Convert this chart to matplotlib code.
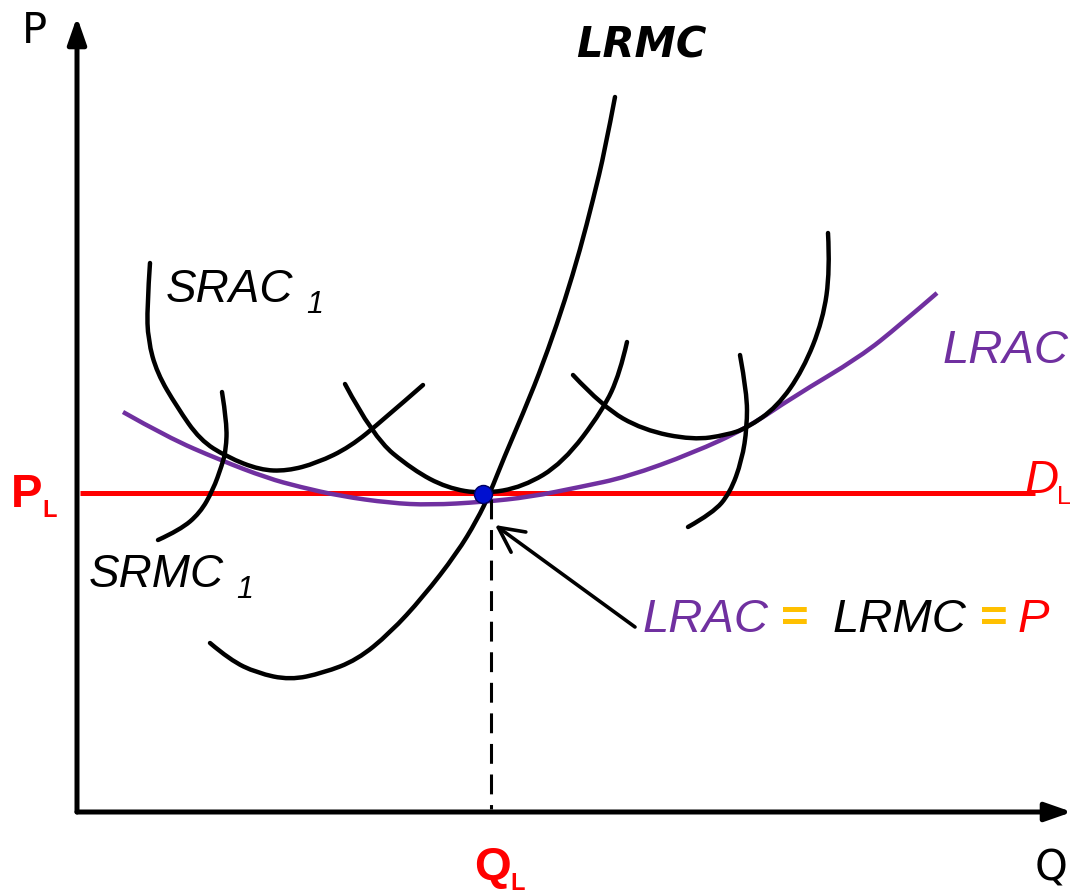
import matplotlib
matplotlib.use('Agg')
import matplotlib.pyplot as plt
from matplotlib.patches import FancyArrowPatch, PathPatch
from matplotlib.path import Path

# Curve points (Q to the right, P upwards, origin at the axes corner)
lrac_q = [46, 90, 143, 190, 223, 263, 313, 353, 406, 453, 503, 550, 616, 670, 716, 783, 823, 860]
lrac_p = [400, 375, 352, 334, 325, 316, 309, 307, 310, 315, 325, 335, 359, 384, 415, 455, 487, 519]

lrmc_q = [133, 153, 180, 213, 246, 280, 313, 346, 380, 400, 413, 426, 453, 471, 488, 503, 516, 528, 538]
lrmc_p = [169, 152, 139, 132, 139, 152, 179, 215, 259, 292, 319, 352, 415, 462, 512, 562, 612, 662, 715]

srac1_q = [73, 70, 71, 80, 100, 123, 150, 183, 210, 240, 273, 306, 346]
srac1_p = [549, 505, 472, 439, 405, 372, 355, 342, 341, 349, 365, 392, 427]

srmc1_q = [145, 150, 149, 145, 136, 123, 103, 81]
srmc1_p = [420, 389, 362, 347, 322, 299, 282, 272]

srac2_q = [268, 296, 336, 370, 406, 446, 486, 526, 543, 550]
srac2_p = [428, 375, 342, 324, 318, 325, 349, 402, 439, 470]

srac3_q = [496, 526, 566, 616, 650, 670, 700, 726, 746, 753, 751]
srac3_p = [437, 405, 382, 372, 377, 384, 405, 442, 492, 542, 579]

srmc3_q = [663, 670, 670, 665, 653, 636, 611]
srmc3_p = [457, 419, 385, 352, 319, 299, 285]

# long-run equilibrium
q_l = 410
p_l = 319
demand_q = [3, 958]

purple = '#7030A0'
red = '#FF0000'
gold = '#FFC000'
sans = 'Liberation Sans'


def curve(qs, ps):
    # quadratic B-spline path: the read points act as control points
    pts = list(zip(qs, ps))
    verts = [pts[0]]
    codes = [Path.MOVETO]
    for i in range(1, len(pts) - 1):
        if i < len(pts) - 2:
            end = ((pts[i][0] + pts[i + 1][0]) / 2, (pts[i][1] + pts[i + 1][1]) / 2)
        else:
            end = pts[-1]
        verts += [pts[i], end]
        codes += [Path.CURVE3, Path.CURVE3]
    return Path(verts, codes)


fig = plt.figure(figsize=(10.73, 8.96), dpi=100)
ax = fig.add_axes([0, 0, 1, 1])
ax.set_xlim(-77, 996)
ax.set_ylim(-84, 812)
ax.axis('off')

# axes with arrow heads
for end in [(0, 795), (995, 0)]:
    ax.add_patch(FancyArrowPatch((0, 0), end, arrowstyle='-|>,head_length=0.8,head_width=0.28',
                                 mutation_scale=20, lw=3.6, color='black',
                                 shrinkA=0, shrinkB=0, zorder=5))

# demand line and LRAC
ax.plot(demand_q, [p_l, p_l], color=red, lw=3.6, solid_capstyle='butt', zorder=2)
ax.add_patch(PathPatch(curve(lrac_q, lrac_p), fc='none', ec=purple, lw=3.2, zorder=3))

# black cost curves
for qs, ps in [(lrmc_q, lrmc_p), (srac1_q, srac1_p), (srmc1_q, srmc1_p),
               (srac2_q, srac2_p), (srac3_q, srac3_p), (srmc3_q, srmc3_p)]:
    ax.add_patch(PathPatch(curve(qs, ps), fc='none', ec='black', lw=3.2,
                           capstyle='round', zorder=4))

# dashed drop line to Q_L
ax.plot([q_l + 4, q_l + 4], [p_l - 6, 3], color='black', lw=2.2,
        dashes=(6.5, 3.5), zorder=4)

# equilibrium point
ax.plot([q_l - 4], [p_l - 1], 'o', ms=13, color='#0010D0', mec='#000060',
        mew=1, zorder=6)

# pointer arrow
ax.add_patch(FancyArrowPatch((558, 185), (418, 287), arrowstyle='->,head_length=0.9,head_width=0.45',
                             mutation_scale=20, lw=2.6, color='black',
                             shrinkA=0, shrinkB=0, zorder=5))

# labels
ax.text(-55, 769, 'P', fontsize=30, family='DejaVu Sans', va='baseline')
ax.text(958, -68, 'Q', fontsize=30, family='DejaVu Sans', va='baseline')
ax.text(-66, 305, 'P', fontsize=34, family=sans, weight='bold', color=red, va='baseline')
ax.text(-35, 295, 'L', fontsize=17, family=sans, weight='bold', color=red, va='baseline')
ax.text(397, -68, 'Q', fontsize=34, family=sans, weight='bold', color=red, va='baseline')
ax.text(433, -78, 'L', fontsize=17, family=sans, weight='bold', color=red, va='baseline')

ax.text(499, 755, 'LRMC', fontsize=30, family='DejaVu Sans', weight='bold',
        style='italic', va='baseline')
ax.text(89, 510, 'SRAC', fontsize=33, family=sans, style='italic', va='baseline')
ax.text(229, 499, '1', fontsize=22, family=sans, style='italic', va='baseline')
ax.text(12, 225, 'SRMC', fontsize=33, family=sans, style='italic', va='baseline')
ax.text(159, 214, '1', fontsize=22, family=sans, style='italic', va='baseline')
ax.text(866, 449, 'LRAC', fontsize=34, family=sans, style='italic', color=purple, va='baseline')
ax.text(948, 319, 'D', fontsize=34, family=sans, style='italic', color=red, va='baseline')
ax.text(980, 308, 'L', fontsize=18, family=sans, color=red, va='baseline')

# LRAC = LRMC = P
ax.text(566, 180, 'LRAC', fontsize=34, family=sans, style='italic', color=purple, va='baseline')
ax.text(704, 180, '=', fontsize=34, family=sans, weight='bold', color=gold, va='baseline')
ax.text(756, 180, 'LRMC', fontsize=34, family=sans, style='italic', color='black', va='baseline')
ax.text(903, 180, '=', fontsize=34, family=sans, weight='bold', color=gold, va='baseline')
ax.text(941, 180, 'P', fontsize=34, family=sans, style='italic', color=red, va='baseline')

fig.savefig('out.png', dpi=100)
